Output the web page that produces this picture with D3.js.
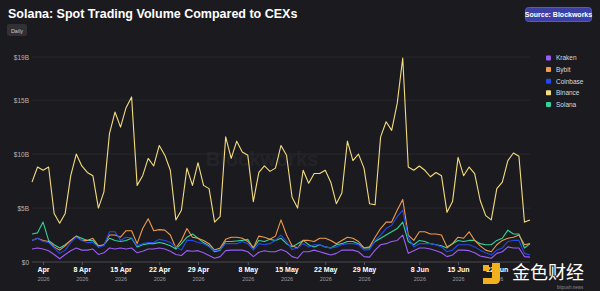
<!DOCTYPE html>
<html>
<head>
<meta charset="utf-8">
<script src="https://cdn.jsdelivr.net/npm/d3@7"></script>
<style>
  body { margin: 0; background: #1b1b1f; }
  svg { display: block; font-family: "Liberation Sans", Arial, sans-serif; }
</style>
</head>
<body>
<div id="chart"></div>
<script>
var w = 600;
var h = 291;

// daily values, $B, 30 Mar 2026 .. 28 Jun 2026
var kraken = [1.2, 1.3, 1.2, 1.05, 0.7, 0.3, 0.7, 1.05, 1.3, 1.1, 1.1, 1.2, 0.7, 0.85, 1.3, 1.2, 1.3, 1.2, 1.3, 0.85,
  1.0, 1.2, 1.2, 1.3, 1.2, 1.0, 0.7, 0.6, 1.05, 1.0, 1.05, 0.85, 0.6, 0.35, 0.5, 1.05, 1.1, 1.1, 1.1, 0.95,
  0.5, 0.9, 1.05, 0.95, 0.95, 1.15, 0.95, 0.5, 0.35, 0.95, 0.95, 1.1, 0.95, 0.8, 0.65, 0.8, 1.1, 1.1, 1.1, 0.95,
  0.5, 0.45, 1.1, 1.6, 1.7, 1.9, 2.0, 2.5, 0.8, 1.05, 1.3, 1.3, 1.2, 1.05, 0.85, 0.5, 0.65, 1.1, 1.1, 1.05,
  0.85, 0.55, 0.45, 0.35, 0.8, 0.95, 1.4, 1.3, 1.3, 0.5, 0.45];
var bybit = [2.0, 2.2, 2.0, 1.9, 1.4, 1.1, 1.5, 2.0, 2.4, 2.0, 2.0, 2.2, 1.5, 1.6, 2.5, 2.5, 2.3, 2.9, 2.9, 1.7,
  3.1, 4.0, 2.9, 3.0, 2.95, 2.5, 1.3, 2.0, 3.1, 2.3, 2.2, 2.0, 1.7, 1.1, 1.3, 2.1, 2.3, 2.3, 2.2, 1.9,
  1.3, 2.4, 2.3, 2.1, 2.4, 3.9, 2.5, 1.5, 1.3, 2.0, 2.0, 1.9, 2.2, 2.2, 2.0, 1.7, 2.0, 2.3, 2.2, 1.9,
  1.3, 1.4, 2.3, 3.1, 3.7, 3.7, 4.8, 5.8, 2.5, 2.0, 2.8, 2.8, 2.6, 2.6, 2.5, 1.4, 1.7, 2.3, 2.2, 2.8,
  2.0, 1.5, 1.1, 0.95, 1.6, 2.0, 2.2, 2.3, 2.5, 1.6, 1.7];
var coinbase = [2.0, 2.2, 1.9, 1.8, 1.3, 0.8, 1.1, 1.8, 2.3, 2.0, 1.8, 1.8, 1.4, 1.5, 2.8, 2.8, 2.0, 2.3, 2.25, 1.5,
  1.7, 1.8, 1.8, 2.1, 2.0, 1.8, 1.4, 1.1, 2.0, 2.0, 1.8, 1.7, 1.4, 1.05, 1.15, 1.7, 1.7, 1.7, 1.9, 1.7,
  1.1, 1.7, 1.6, 1.7, 2.0, 2.5, 1.9, 1.15, 1.3, 1.7, 1.4, 1.6, 1.6, 1.4, 1.3, 1.4, 1.6, 1.7, 1.7, 1.6,
  1.1, 1.15, 2.0, 2.5, 3.1, 3.4, 4.2, 4.8, 2.3, 1.4, 1.7, 1.7, 1.7, 1.6, 1.4, 0.95, 1.1, 1.6, 1.6, 1.6,
  1.4, 1.1, 0.85, 0.65, 1.1, 1.3, 1.9, 2.0, 2.0, 0.8, 0.65];
var binance = [7.4, 8.8, 8.5, 8.8, 4.5, 3.6, 4.5, 8.0, 10.0, 8.9, 8.3, 8.0, 5.0, 6.5, 11.9, 13.9, 12.5, 14.3, 15.3, 7.1,
  8.0, 9.6, 8.9, 10.8, 9.9, 8.5, 3.9, 4.8, 8.7, 7.1, 9.2, 7.1, 6.8, 3.7, 4.2, 11.6, 9.6, 11.2, 10.2, 9.9,
  5.6, 8.3, 8.9, 8.4, 8.7, 10.8, 9.9, 6.0, 5.0, 8.5, 7.3, 8.2, 8.2, 8.5, 7.4, 5.4, 6.4, 11.2, 9.4, 10.0,
  8.7, 5.4, 5.3, 11.6, 13.0, 12.2, 14.7, 18.9, 8.8, 8.5, 8.9, 8.5, 7.9, 8.3, 8.0, 4.6, 5.6, 9.7, 8.0, 8.8,
  8.2, 5.7, 4.3, 3.9, 6.8, 7.4, 9.4, 10.1, 9.8, 3.7, 3.9];
var solana = [2.6, 2.7, 3.7, 2.0, 1.6, 1.3, 1.6, 2.0, 2.4, 2.2, 2.0, 2.0, 1.4, 1.6, 2.2, 2.0, 1.9, 2.0, 2.2, 1.4,
  1.6, 1.7, 1.7, 1.8, 1.7, 1.5, 1.2, 1.7, 2.3, 2.6, 2.2, 1.8, 1.5, 0.95, 1.1, 1.9, 1.9, 1.95, 2.0, 2.1,
  1.3, 2.0, 1.9, 2.1, 2.0, 2.2, 1.7, 1.4, 1.7, 2.0, 1.6, 1.4, 1.6, 1.4, 1.3, 1.6, 1.7, 1.9, 1.9, 1.7,
  1.3, 1.3, 1.9, 2.2, 2.5, 2.8, 3.1, 3.7, 1.9, 1.6, 2.0, 1.9, 1.7, 1.6, 1.5, 1.3, 1.7, 2.0, 1.9, 2.0,
  2.0, 1.7, 1.6, 1.6, 2.0, 2.2, 2.95, 2.6, 2.6, 1.3, 1.7];

var seriesNames = ['Kraken', 'Bybit', 'Coinbase', 'Binance', 'Solana'];
var seriesColors = ['#9b5cf7', '#f09a4a', '#2548ef', '#f5dc7e', '#2fd49c'];
var seriesData = [kraken, bybit, coinbase, binance, solana];

var yTicks = [0, 5, 10, 15, 19];
var tickDates = ['2026-04-01', '2026-04-08', '2026-04-15', '2026-04-22', '2026-04-29', '2026-05-08',
  '2026-05-15', '2026-05-22', '2026-05-29', '2026-06-08', '2026-06-15', '2026-06-22'];
var tickLabels = ['Apr', '8 Apr', '15 Apr', '22 Apr', '29 Apr', '8 May', '15 May', '22 May', '29 May',
  '8 Jun', '15 Jun', '22 Jun'];

var dates = d3.utcDay.range(new Date(Date.UTC(2026, 2, 30)), new Date(Date.UTC(2026, 5, 29)));

var svg = d3.select('#chart').append('svg').attr('width', w).attr('height', h);

svg.append('rect').attr('width', w).attr('height', h).attr('fill', '#1b1b1f');

var x = d3.scaleUtc().domain([dates[0], dates[dates.length - 1]]).range([32, 530]);
var y = d3.scaleLinear().domain([0, 19]).range([262, 57]);

// title + buttons
svg.append('text')
  .attr('x', 8).attr('y', 18)
  .attr('fill', '#ffffff')
  .attr('font-size', '12.5px')
  .attr('font-weight', 'bold')
  .text('Solana: Spot Trading Volume Compared to CEXs');

svg.append('rect')
  .attr('x', 7).attr('y', 24).attr('width', 20).attr('height', 12).attr('rx', 2)
  .attr('fill', '#303035');
svg.append('text')
  .attr('x', 17).attr('y', 32.5)
  .attr('text-anchor', 'middle')
  .attr('fill', '#c8c8cc')
  .attr('font-size', '5.5px')
  .text('Daily');

svg.append('rect')
  .attr('x', 525.5).attr('y', 7.5).attr('width', 66).attr('height', 14).attr('rx', 3)
  .attr('fill', '#3c3fa6')
  .attr('stroke', '#5659c8');
svg.append('text')
  .attr('x', 558.5).attr('y', 17.3)
  .attr('text-anchor', 'middle')
  .attr('fill', '#ffffff')
  .attr('font-size', '7px')
  .attr('font-weight', 'bold')
  .text('Source: Blockworks');

// watermark
svg.append('text')
  .attr('x', 262).attr('y', 166)
  .attr('text-anchor', 'middle')
  .attr('fill', '#232328')
  .attr('font-size', '20px')
  .attr('font-weight', 'bold')
  .text('Blockworks');

// grid + y labels
svg.selectAll('.grid')
  .data(yTicks)
  .enter()
  .append('line')
  .attr('class', 'grid')
  .attr('x1', 32).attr('x2', 530)
  .attr('y1', function (d) { return y(d); })
  .attr('y2', function (d) { return y(d); })
  .attr('stroke', function (d) { return d === 0 ? '#55555b' : '#2c2c31'; })
  .attr('stroke-width', 0.8);

svg.selectAll('.ylab')
  .data(yTicks)
  .enter()
  .append('text')
  .attr('class', 'ylab')
  .attr('x', 29)
  .attr('y', function (d) { return y(d) + 2.5; })
  .attr('text-anchor', 'end')
  .attr('fill', '#b4b4ba')
  .attr('font-size', '6.5px')
  .text(function (d) { return d === 0 ? '$0' : '$' + d + 'B'; });

// x axis
var xAxis = svg.append('g')
  .attr('transform', 'translate(0,262)')
  .call(d3.axisBottom(x)
    .tickValues(tickDates.map(function (s) { return new Date(s + 'T00:00:00Z'); }))
    .tickSize(3)
    .tickFormat(function (d, i) { return tickLabels[i]; }));
xAxis.select('.domain').remove();
xAxis.selectAll('line').attr('stroke', '#55555b');
xAxis.selectAll('text')
  .attr('fill', '#ffffff')
  .attr('font-size', '7px')
  .attr('font-weight', 'bold')
  .attr('dy', '0.55em')
  .attr('font-family', '"Liberation Sans", Arial, sans-serif');
xAxis.selectAll('.tick')
  .append('text')
  .attr('y', 19)
  .attr('fill', '#9a9aa0')
  .attr('font-size', '5.5px')
  .attr('text-anchor', 'middle')
  .attr('font-family', '"Liberation Sans", Arial, sans-serif')
  .text('2026');

// lines
var line = d3.line()
  .x(function (d, i) { return x(dates[i]); })
  .y(function (d) { return y(d); });

var drawOrder = [4, 3, 1, 2, 0];
drawOrder.forEach(function (k) {
  svg.append('path')
    .datum(seriesData[k])
    .attr('d', line)
    .attr('fill', 'none')
    .attr('stroke', seriesColors[k])
    .attr('stroke-width', 1.1)
    .attr('stroke-linejoin', 'round');
});

// legend
var legend = svg.selectAll('.legend')
  .data(seriesNames)
  .enter()
  .append('g')
  .attr('class', 'legend')
  .attr('transform', function (d, i) { return 'translate(546,' + (55.5 + i * 11.6) + ')'; });
legend.append('rect')
  .attr('width', 5).attr('height', 5).attr('rx', 0.8)
  .attr('fill', function (d, i) { return seriesColors[i]; });
legend.append('text')
  .attr('x', 10).attr('y', 4.8)
  .attr('fill', '#d8d8dc')
  .attr('font-size', '6.5px')
  .text(function (d) { return d; });

// site watermark bottom right (sits over the last x label, as in the source image)
var wm = svg.append('g').attr('transform', 'translate(483,263)');
wm.append('path')
  .attr('d', 'M0,2 h6 v6 h-6z M9,0 h8 v16 q0,5 -5,5 h-12 v-6 h9z')
  .attr('fill', '#f2b01e');
wm.append('text')
  .attr('x', 29).attr('y', 15.5)
  .attr('fill', '#ffffff')
  .attr('font-size', '18px')
  .attr('font-family', '"Noto Sans CJK SC", sans-serif')
  .text('金色财经');
wm.append('text')
  .attr('x', 74).attr('y', 25.5)
  .attr('fill', '#8a8a90')
  .attr('font-size', '4.5px')
  .text('bitpush.news');
</script>
</body>
</html>
